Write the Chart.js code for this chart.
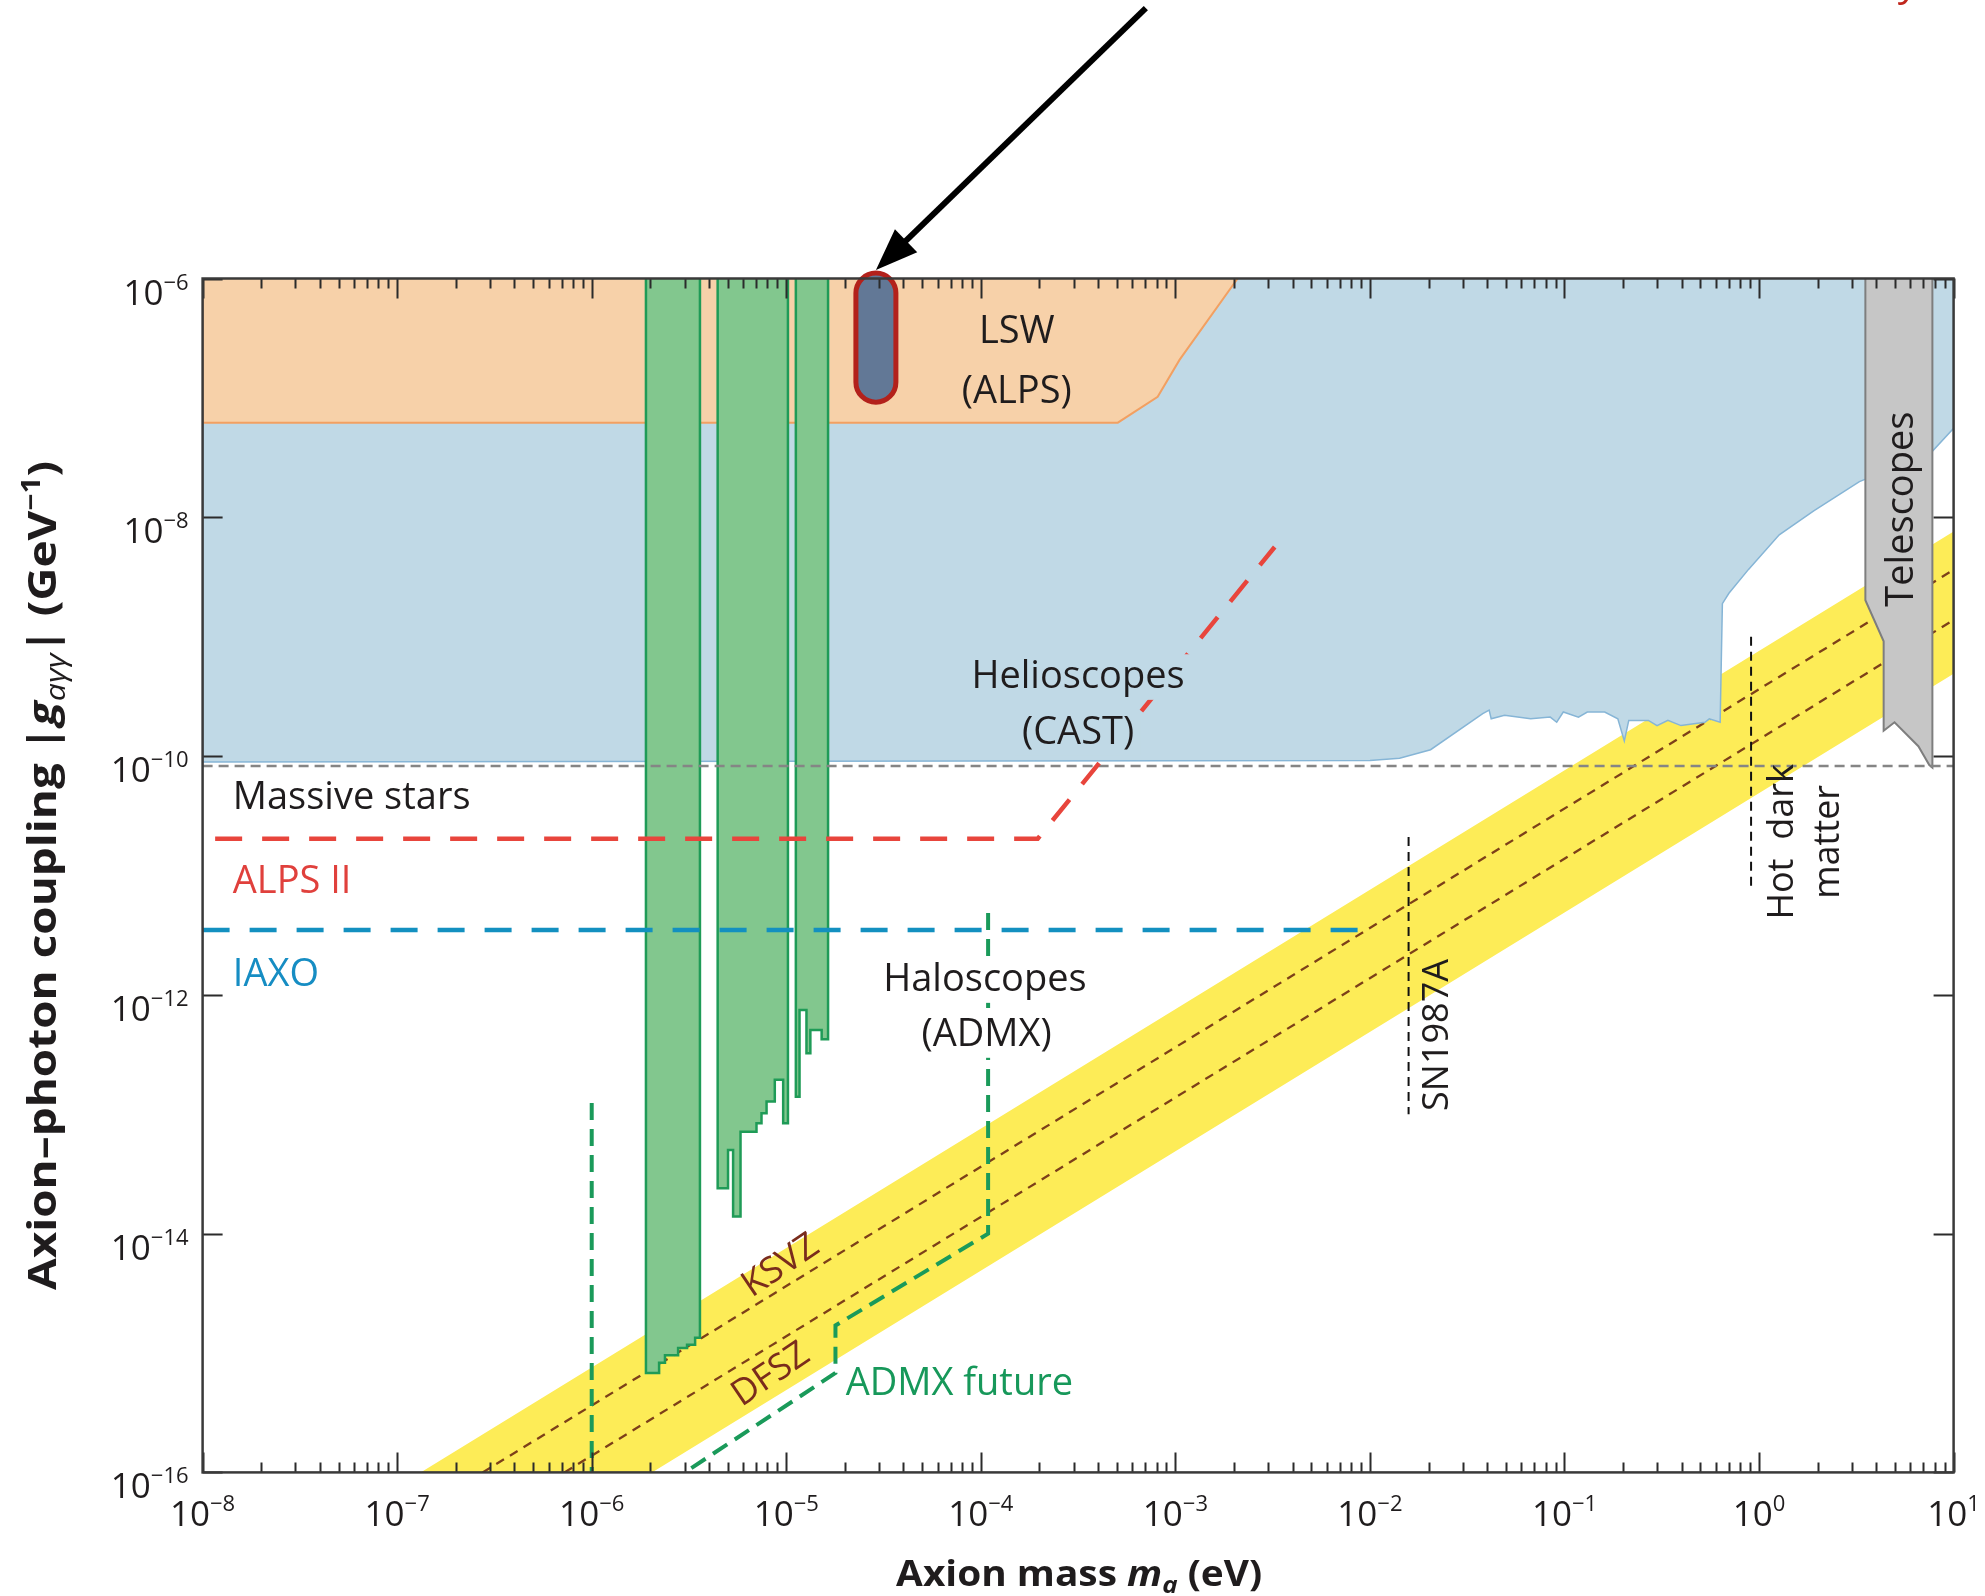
<!DOCTYPE html>
<html>
<head>
<meta charset="utf-8">
<script src="https://cdn.jsdelivr.net/npm/chart.js@4.4.1/dist/chart.umd.min.js"></script>
<style>
  html, body { margin: 0; padding: 0; background: #fff; }
  #wrap { width: 1985px; height: 1596px; }
</style>
</head>
<body>
<div id="wrap"><canvas id="axionChart" width="1985" height="1596"></canvas></div>
<script>
// axis decades (x: axion mass in eV, y: coupling in GeV^-1)
const massTickExponents = [-8, -7, -6, -5, -4, -3, -2, -1, 0, 1];
const couplingTickExponents = [-6, -8, -10, -12, -14, -16];

// LSW (ALPS) excluded region
const lswMass = [1e-8, 1e-8, 5.06e-4, 8.11e-4, 1.05e-3, 2.09e-3];
const lswCoupling = [1e-6, 6.2e-8, 6.2e-8, 1.02e-7, 2.08e-7, 1e-6];

// Helioscopes (CAST) excluded region
const heliosMass = [1e-8, 1e-8, 1e-2, 1.42e-2, 2.05e-2, 3.8e-2, 4.1e-2, 4.2e-2, 4.92e-2, 5.74e-2, 6.7e-2,
  8.45e-2, 9.12e-2, 9.86e-2, 0.118, 0.131, 0.161, 0.188, 0.203, 0.214, 0.27, 0.299, 0.34, 0.397,
  0.527, 0.555, 0.631, 0.648, 0.70, 0.883, 1.27, 1.91, 3.28, 7.69, 10, 10];
const heliosCoupling = [1e-6, 8.9e-11, 9.2e-11, 9.6e-11, 1.13e-10, 2.27e-10, 2.43e-10, 2.05e-10, 2.2e-10, 2.12e-10, 2.05e-10,
  2.12e-10, 1.92e-10, 2.34e-10, 2.12e-10, 2.34e-10, 2.34e-10, 2.05e-10, 1.34e-10, 1.99e-10, 1.99e-10, 1.8e-10, 1.99e-10, 1.8e-10,
  1.92e-10, 2.05e-10, 1.92e-10, 1.89e-9, 2.31e-9, 3.66e-9, 7.13e-9, 1.13e-8, 1.99e-8, 3.5e-8, 5.56e-8, 1e-6];

// Haloscopes (ADMX) excluded bars
const admx1Mass = [1.9e-6, 1.9e-6, 2.22e-6, 2.22e-6, 2.38e-6, 2.38e-6, 2.78e-6, 2.78e-6, 3.09e-6, 3.09e-6, 3.4e-6, 3.4e-6, 3.6e-6, 3.6e-6];
const admx1Coupling = [1e-6, 6.8e-16, 6.8e-16, 8.3e-16, 8.3e-16, 9.6e-16, 9.6e-16, 1.1e-15, 1.1e-15, 1.17e-15, 1.17e-15, 1.34e-15, 1.34e-15, 1e-6];
const admx2Mass = [4.44e-6, 4.44e-6, 5.02e-6, 5.02e-6, 5.33e-6, 5.33e-6, 5.82e-6, 5.82e-6, 7.03e-6, 7.03e-6, 7.46e-6, 7.46e-6,
  7.92e-6, 7.92e-6, 8.73e-6, 8.73e-6, 9.64e-6, 9.64e-6, 1.02e-5, 1.02e-5];
const admx2Coupling = [1e-6, 2.4e-14, 2.4e-14, 5.02e-14, 5.02e-14, 1.39e-14, 1.39e-14, 7.14e-14, 7.14e-14, 8.41e-14, 8.41e-14, 1.02e-13,
  1.02e-13, 1.28e-13, 1.28e-13, 1.94e-13, 1.94e-13, 8.41e-14, 8.41e-14, 1e-6];
const admx3Mass = [1.12e-5, 1.12e-5, 1.17e-5, 1.17e-5, 1.27e-5, 1.27e-5, 1.33e-5, 1.33e-5, 1.52e-5, 1.52e-5, 1.64e-5, 1.64e-5];
const admx3Coupling = [1e-6, 1.4e-13, 1.4e-13, 7.48e-13, 7.48e-13, 3.24e-13, 3.24e-13, 5.08e-13, 5.08e-13, 4.25e-13, 4.25e-13, 1e-6];

// Telescopes excluded region
const telescopeMass = [3.52, 3.52, 4.37, 4.37, 4.97, 6.59, 7.5, 7.78, 7.78];
const telescopeCoupling = [1e-6, 2.02e-9, 9.14e-10, 1.63e-10, 1.92e-10, 1.21e-10, 8.4e-11, 8.0e-11, 1e-6];

// QCD axion model band and benchmark lines
const bandMass = [1.32e-7, 10, 10, 2.04e-6];
const bandCoupling = [1e-16, 7.6e-9, 4.9e-10, 1e-16];
const ksvzMass = [2.75e-7, 10];
const ksvzCoupling = [1e-16, 3.63e-9];
const dfszMass = [7.24e-7, 10];
const dfszCoupling = [1e-16, 1.38e-9];

// limits and projections
const massiveStarsMass = [1e-8, 10];
const massiveStarsCoupling = [8.25e-11, 8.25e-11];
const alps2Mass = [1.16e-8, 1.96e-4, 3.24e-3];
const alps2Coupling = [2.03e-11, 2.03e-11, 5.64e-9];
const iaxoMass = [1e-8, 1.04e-2];
const iaxoCoupling = [3.5e-12, 3.5e-12];
const admxFutureMass = [1.09e-4, 1.09e-4, 1.79e-5, 1.79e-5, 3.01e-6];
const admxFutureCoupling = [4.85e-12, 1.0e-14, 1.7e-15, 6.8e-16, 1e-16];
const admxFutureLowMass = [1e-6, 1e-6];
const admxFutureLowCoupling = [1.24e-13, 1e-16];
const sn1987aMass = [1.58e-2, 1.58e-2];
const sn1987aCoupling = [2.1e-11, 1.0e-13];
const hotDmMass = [0.91, 0.91];
const hotDmCoupling = [1.0e-9, 7.3e-12];

// highlighted box and arrow
const highlightMass = [2.28e-5, 3.66e-5];
const highlightCoupling = [9.2e-8, 1.11e-6];
const arrowMass = [7.05e-4, 2.89e-5];
const arrowCoupling = [1.84e-4, 1.18e-6];

const FONT = '"Open Sans", "Noto Sans", sans-serif';

function pts(xs, ys) {
  return xs.map((x, i) => ({ x: x, y: ys[i] }));
}

function area(label, xs, ys, fill, line, width, order) {
  return {
    label: label, data: pts(xs, ys), showLine: true, fill: 'shape',
    backgroundColor: fill, borderColor: line, borderWidth: width, order: order
  };
}

function dashed(label, xs, ys, color, width, dash, order) {
  return {
    label: label, data: pts(xs, ys), showLine: true, fill: false,
    borderColor: color, borderWidth: width, borderDash: dash, order: order
  };
}

// text labels placed in data coordinates
const labels = [
  { t: 'LSW', m: 1.53e-4, g: 3.56e-7 },
  { t: '(ALPS)', m: 1.53e-4, g: 1.12e-7 },
  { t: 'Helioscopes', m: 3.16e-4, g: 4.59e-10, bg: '#c0d9e6' },
  { t: '(CAST)', m: 3.16e-4, g: 1.56e-10, bg: '#c0d9e6' },
  { t: 'Massive stars', m: 1.43e-8, g: 4.46e-11, align: 'left' },
  { t: 'ALPS II', m: 1.43e-8, g: 8.83e-12, align: 'left', color: '#e0403c' },
  { t: 'IAXO', m: 1.43e-8, g: 1.47e-12, align: 'left', color: '#168dc3' },
  { t: 'Haloscopes', m: 1.05e-4, g: 1.33e-12, bg: '#fff' },
  { t: '(ADMX)', m: 1.07e-4, g: 4.61e-13, bg: '#fff' },
  { t: 'ADMX future', m: 2.02e-5, g: 5.51e-16, align: 'left', color: '#17985a' },
  { t: 'KSVZ', m: 9.38e-6, g: 5.36e-15, rot: -34, color: '#7a2c1c', size: 36 },
  { t: 'DFSZ', m: 8.34e-6, g: 6.56e-16, rot: -34, color: '#7a2c1c', size: 36 },
  { t: 'SN1987A', m: 2.23e-2, g: 4.61e-13, rot: -90, size: 36 },
  { t: 'Hot  dark', m: 1.32, g: 1.91e-11, rot: -90, size: 36 },
  { t: 'matter', m: 2.28, g: 1.91e-11, rot: -90, size: 36 },
  { t: 'Telescopes', m: 5.47, g: 1.17e-8, rot: -90 }
];

function drawRich(ctx, parts, x, y, align, targetW) {
  let w = 0;
  parts.forEach(p => { ctx.font = p.font; w += ctx.measureText(p.t).width; });
  const sx = targetW ? targetW / w : 1;
  const start = align === 'center' ? x - w * sx / 2 : align === 'right' ? x - w * sx : x;
  ctx.save();
  ctx.translate(start, y);
  ctx.scale(sx, 1);
  ctx.textAlign = 'left';
  ctx.textBaseline = 'alphabetic';
  let cx = 0;
  parts.forEach(p => {
    ctx.font = p.font;
    ctx.fillStyle = p.color || '#1f1c1d';
    ctx.fillText(p.t, cx, p.dy || 0);
    cx += ctx.measureText(p.t).width;
  });
  ctx.restore();
}

function expText(e) {
  return e < 0 ? '\u2212' + Math.abs(e) : String(e);
}

const overlay = {
  id: 'overlay',
  afterDatasetsDraw(chart) {
    const { ctx, chartArea: a, scales: { x, y } } = chart;
    ctx.save();

    // highlighted pill
    const hx0 = x.getPixelForValue(highlightMass[0]), hx1 = x.getPixelForValue(highlightMass[1]);
    const hy0 = y.getPixelForValue(highlightCoupling[1]), hy1 = y.getPixelForValue(highlightCoupling[0]);
    ctx.beginPath();
    ctx.roundRect(hx0, hy0, hx1 - hx0, hy1 - hy0, (hx1 - hx0) / 2);
    ctx.fillStyle = '#627896';
    ctx.fill();
    ctx.lineWidth = 5;
    ctx.strokeStyle = '#b3211b';
    ctx.stroke();

    // ticks (inward)
    ctx.strokeStyle = '#2b2b2b';
    ctx.lineWidth = 2;
    ctx.beginPath();
    massTickExponents.forEach(e => {
      for (let k = 1; k <= 9; k++) {
        const v = k * Math.pow(10, e);
        if (v > 10.0001) break;
        const px = Math.round(x.getPixelForValue(v)) + 0.5;
        const len = k === 1 ? 20 : 10;
        ctx.moveTo(px, a.bottom); ctx.lineTo(px, a.bottom - len);
        ctx.moveTo(px, a.top); ctx.lineTo(px, a.top + len);
      }
    });
    couplingTickExponents.forEach(e => {
      const py = Math.round(y.getPixelForValue(Math.pow(10, e))) + 0.5;
      ctx.moveTo(a.left, py); ctx.lineTo(a.left + 20, py);
      ctx.moveTo(a.right, py); ctx.lineTo(a.right - 20, py);
    });
    ctx.stroke();

    // frame
    ctx.lineWidth = 2.5;
    ctx.strokeStyle = '#3a3a3a';
    ctx.strokeRect(a.left, a.top, a.right - a.left, a.bottom - a.top);

    // tick labels
    massTickExponents.forEach(e => {
      const px = x.getPixelForValue(Math.pow(10, e));
      drawRich(ctx, [
        { t: '10', font: `35px ${FONT}` },
        { t: expText(e), font: `22px ${FONT}`, dy: -15 }
      ], px, a.bottom + 54, 'center');
    });
    couplingTickExponents.forEach(e => {
      const py = y.getPixelForValue(Math.pow(10, e));
      drawRich(ctx, [
        { t: '10', font: `35px ${FONT}` },
        { t: expText(e), font: `22px ${FONT}`, dy: -15 }
      ], a.left - 14, py + 26, 'right');
    });

    // axis titles
    drawRich(ctx, [
      { t: 'Axion mass ', font: `bold 36px ${FONT}` },
      { t: 'm', font: `italic bold 36px ${FONT}` },
      { t: 'a', font: `italic bold 24px ${FONT}`, dy: 7 },
      { t: ' (eV)', font: `bold 36px ${FONT}` }
    ], (a.left + a.right) / 2 + 1, 1586, 'center', 366);

    ctx.save();
    ctx.translate(56, (a.top + a.bottom) / 2);
    ctx.rotate(-Math.PI / 2);
    drawRich(ctx, [
      { t: 'Axion\u2013photon coupling |', font: `bold 40px ${FONT}` },
      { t: 'g', font: `italic bold 40px ${FONT}` },
      { t: 'a\u03b3\u03b3', font: `italic 28px ${FONT}`, dy: 9 },
      { t: '| (GeV', font: `bold 40px ${FONT}` },
      { t: '\u22121', font: `bold 26px ${FONT}`, dy: -16 },
      { t: ')', font: `bold 40px ${FONT}` }
    ], 0, 0, 'center', 829);
    ctx.restore();

    // region labels
    labels.forEach(l => {
      const size = l.size || 38;
      const px = x.getPixelForValue(l.m), py = y.getPixelForValue(l.g);
      ctx.save();
      ctx.translate(px, py);
      if (l.rot) ctx.rotate(l.rot * Math.PI / 180);
      ctx.font = `${size}px ${FONT}`;
      ctx.textAlign = l.align || 'center';
      ctx.textBaseline = 'middle';
      if (l.bg) {
        const w = ctx.measureText(l.t).width;
        ctx.fillStyle = l.bg;
        ctx.fillRect(-w / 2 - 6, -size * 0.6, w + 12, size * 1.2);
      }
      ctx.fillStyle = l.color || '#1f1c1d';
      ctx.fillText(l.t, 0, 0);
      ctx.restore();
    });

    // arrow pointing at the highlighted box
    const ax0 = x.getPixelForValue(arrowMass[0]), ay0 = y.getPixelForValue(arrowCoupling[0]);
    const ax1 = x.getPixelForValue(arrowMass[1]), ay1 = y.getPixelForValue(arrowCoupling[1]);
    const ang = Math.atan2(ay1 - ay0, ax1 - ax0);
    const headLen = 42, headW = 16;
    const bx = ax1 - headLen * Math.cos(ang), by = ay1 - headLen * Math.sin(ang);
    ctx.strokeStyle = '#000';
    ctx.lineWidth = 6;
    ctx.beginPath();
    ctx.moveTo(ax0, ay0);
    ctx.lineTo(bx + 4 * Math.cos(ang), by + 4 * Math.sin(ang));
    ctx.stroke();
    ctx.fillStyle = '#000';
    ctx.beginPath();
    ctx.moveTo(ax1, ay1);
    ctx.lineTo(bx + headW * Math.sin(ang), by - headW * Math.cos(ang));
    ctx.lineTo(bx - headW * Math.sin(ang), by + headW * Math.cos(ang));
    ctx.closePath();
    ctx.fill();

    // cropped handwritten mark at top right
    ctx.font = `italic 40px ${FONT}`;
    ctx.fillStyle = '#c0261c';
    ctx.textAlign = 'left';
    ctx.textBaseline = 'alphabetic';
    ctx.fillText('y', 1902, -5);

    ctx.restore();
  }
};

const datasets = [
  area('Axion models', bandMass, bandCoupling, '#fdec57', 'rgba(0,0,0,0)', 0, 20),
  dashed('KSVZ', ksvzMass, ksvzCoupling, '#7d4019', 2.3, [9, 7], 19),
  dashed('DFSZ', dfszMass, dfszCoupling, '#7d4019', 2.3, [9, 7], 19),
  area('Helioscopes (CAST)', heliosMass, heliosCoupling, '#c0d9e6', '#86b5d6', 1.5, 18),
  area('LSW (ALPS)', lswMass, lswCoupling, '#f7d1a9', '#f2a062', 2, 17),
  area('ADMX', admx1Mass, admx1Coupling, '#82c78e', '#1f9b57', 2.5, 16),
  area('ADMX', admx2Mass, admx2Coupling, '#82c78e', '#1f9b57', 2.5, 16),
  area('ADMX', admx3Mass, admx3Coupling, '#82c78e', '#1f9b57', 2.5, 16),
  area('Telescopes', telescopeMass, telescopeCoupling, '#c6c6c6', '#7e7e7e', 2, 15),
  dashed('Massive stars', massiveStarsMass, massiveStarsCoupling, '#858585', 2.5, [10, 6], 14),
  dashed('ALPS II', alps2Mass, alps2Coupling, '#e8453c', 4.5, [27, 20], 13),
  dashed('IAXO', iaxoMass, iaxoCoupling, '#1390c0', 4.5, [27, 20], 13),
  dashed('ADMX future', admxFutureMass, admxFutureCoupling, '#1a9a5a', 4, [17, 9], 13),
  dashed('ADMX future', admxFutureLowMass, admxFutureLowCoupling, '#1a9a5a', 4, [17, 9], 13),
  dashed('SN1987A', sn1987aMass, sn1987aCoupling, '#111', 2, [9, 6], 12),
  dashed('Hot dark matter', hotDmMass, hotDmCoupling, '#111', 2, [9, 6], 12)
];

new Chart(document.getElementById('axionChart').getContext('2d'), {
  type: 'scatter',
  data: { datasets: datasets },
  options: {
    responsive: false,
    animation: false,
    layout: { padding: { left: 0, right: 31.4, top: 278.5, bottom: 0 } },
    elements: { point: { radius: 0, hoverRadius: 0 }, line: { tension: 0 } },
    plugins: { legend: { display: false }, tooltip: { enabled: false } },
    scales: {
      x: {
        type: 'logarithmic', min: 1e-8, max: 10,
        ticks: { display: false }, grid: { display: false }, border: { display: false },
        afterFit: (s) => { s.height = 123.6; }
      },
      y: {
        type: 'logarithmic', min: 1e-16, max: 1e-6,
        ticks: { display: false }, grid: { display: false }, border: { display: false },
        afterFit: (s) => { s.width = 202.6; }
      }
    }
  },
  plugins: [overlay]
});
</script>
</body>
</html>
